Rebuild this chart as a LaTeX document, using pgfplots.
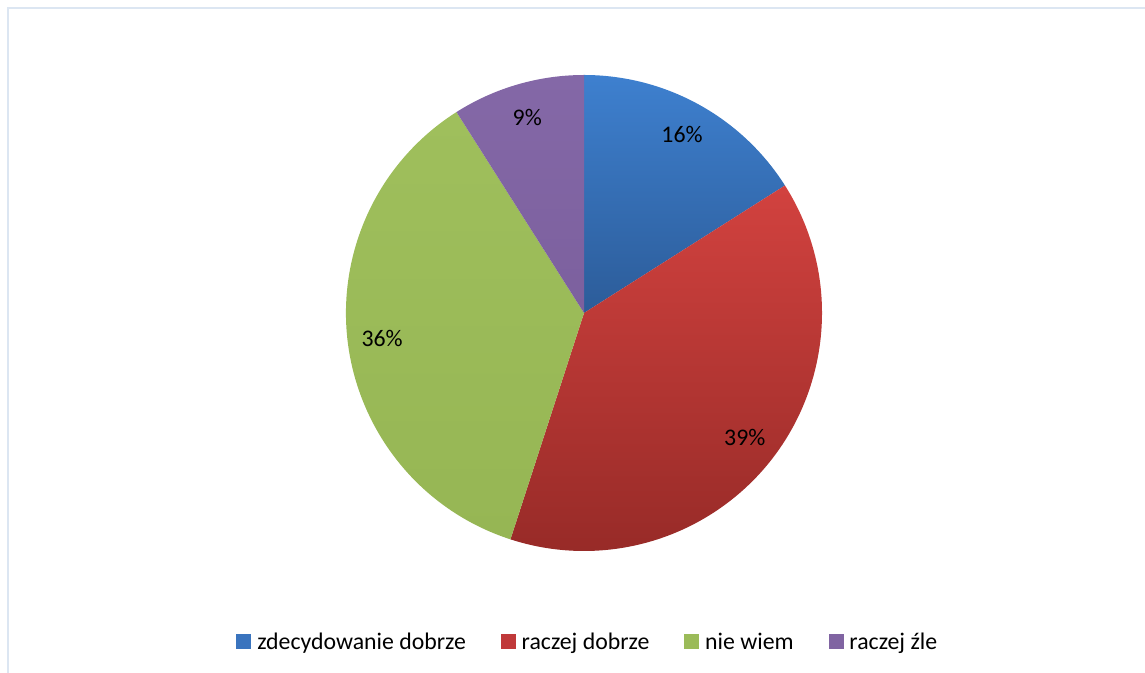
\documentclass[border=0pt]{standalone}
\usepackage{fontspec}
\setmainfont{Carlito}
\usepackage{pgfplots}
\usepackage{pgfplotstable}
\pgfplotsset{compat=1.18}

\definecolor{frameC}{HTML}{DCE6F2}
\definecolor{blueT}{HTML}{3E80CF}
\definecolor{blueB}{HTML}{2C5C99}
\definecolor{redT}{HTML}{D2423F}
\definecolor{redB}{HTML}{962A27}
\definecolor{greenT}{HTML}{9FBF5C}
\definecolor{greenB}{HTML}{96B654}
\definecolor{purpT}{HTML}{8468A7}
\definecolor{purpB}{HTML}{7C609E}
\definecolor{blueL}{HTML}{3A74BE}
\definecolor{redL}{HTML}{C0393A}
\definecolor{greenL}{HTML}{9BBB59}
\definecolor{purpL}{HTML}{8064A2}

\pgfplotstableread{
value
16
39
36
9
}\piedata
\pgfplotstablegetelem{0}{value}\of\piedata \let\va\pgfplotsretval
\pgfplotstablegetelem{1}{value}\of\piedata \let\vb\pgfplotsretval
\pgfplotstablegetelem{2}{value}\of\piedata \let\vc\pgfplotsretval
\pgfplotstablegetelem{3}{value}\of\piedata \let\vd\pgfplotsretval
\pgfmathsetmacro\aA{90}
\pgfmathsetmacro\aB{\aA-3.6*\va}
\pgfmathsetmacro\aC{\aB-3.6*\vb}
\pgfmathsetmacro\aD{\aC-3.6*\vc}
\pgfmathsetmacro\aE{\aD-3.6*\vd}
\pgfmathsetmacro\mA{(\aA+\aB)/2}
\pgfmathsetmacro\mB{(\aB+\aC)/2}
\pgfmathsetmacro\mC{(\aC+\aD)/2}
\pgfmathsetmacro\mD{(\aD+\aE)/2}

\begin{document}
\fontsize{11.9}{14}\selectfont
\begin{tikzpicture}
\useasboundingbox (0,0) rectangle (572.5pt,336.5pt);
\draw[frameC, line width=1pt] (3.75pt,0) -- (3.75pt,332.25pt) -- (572.5pt,332.25pt);
\begin{axis}[
  at={(292pt,180pt)}, anchor=center,
  scale only axis, width=238pt, height=238pt,
  xmin=-1, xmax=1, ymin=-1, ymax=1,
  axis equal image, hide axis, clip=false,
  legend columns=4,
  legend style={draw=none, fill=none, at={(0.506,-0.189)}, anchor=center,
    font=\fontsize{11.9}{14}\selectfont,
    nodes={inner sep=0pt, text depth=0pt},
    /tikz/every odd column/.append style={column sep=3pt},
    /tikz/every even column/.append style={column sep=17.5pt}},
  legend cell align=left,
  legend image code/.code={\fill[#1] (0pt,-3.5pt) rectangle (7pt,3.5pt);},
]
\shade[top color=blueT, bottom color=blueB] (axis cs:0,0) -- (axis cs:{cos(\aA)},{sin(\aA)}) arc[start angle=\aA, end angle=\aB, radius=119pt] -- cycle;
\shade[top color=redT, bottom color=redB] (axis cs:0,0) -- (axis cs:{cos(\aB)},{sin(\aB)}) arc[start angle=\aB, end angle=\aC, radius=119pt] -- cycle;
\shade[top color=greenT, bottom color=greenB] (axis cs:0,0) -- (axis cs:{cos(\aC)},{sin(\aC)}) arc[start angle=\aC, end angle=\aD, radius=119pt] -- cycle;
\shade[top color=purpT, bottom color=purpB] (axis cs:0,0) -- (axis cs:{cos(\aD)},{sin(\aD)}) arc[start angle=\aD, end angle=\aE, radius=119pt] -- cycle;
\node[text=black] at (axis cs:{0.855*cos(\mA)},{0.855*sin(\mA)}) {\va\%};
\node[text=black] at (axis cs:{0.855*cos(\mB)},{0.855*sin(\mB)}) {\vb\%};
\node[text=black] at (axis cs:{0.855*cos(\mC)},{0.855*sin(\mC)}) {\vc\%};
\node[text=black] at (axis cs:{0.855*cos(\mD)},{0.855*sin(\mD)}) {\vd\%};
\addlegendimage{blueL}
\addlegendentry{zdecydowanie dobrze}
\addlegendimage{redL}
\addlegendentry{raczej dobrze}
\addlegendimage{greenL}
\addlegendentry{nie wiem}
\addlegendimage{purpL}
\addlegendentry{raczej źle}
\end{axis}
\end{tikzpicture}
\end{document}
